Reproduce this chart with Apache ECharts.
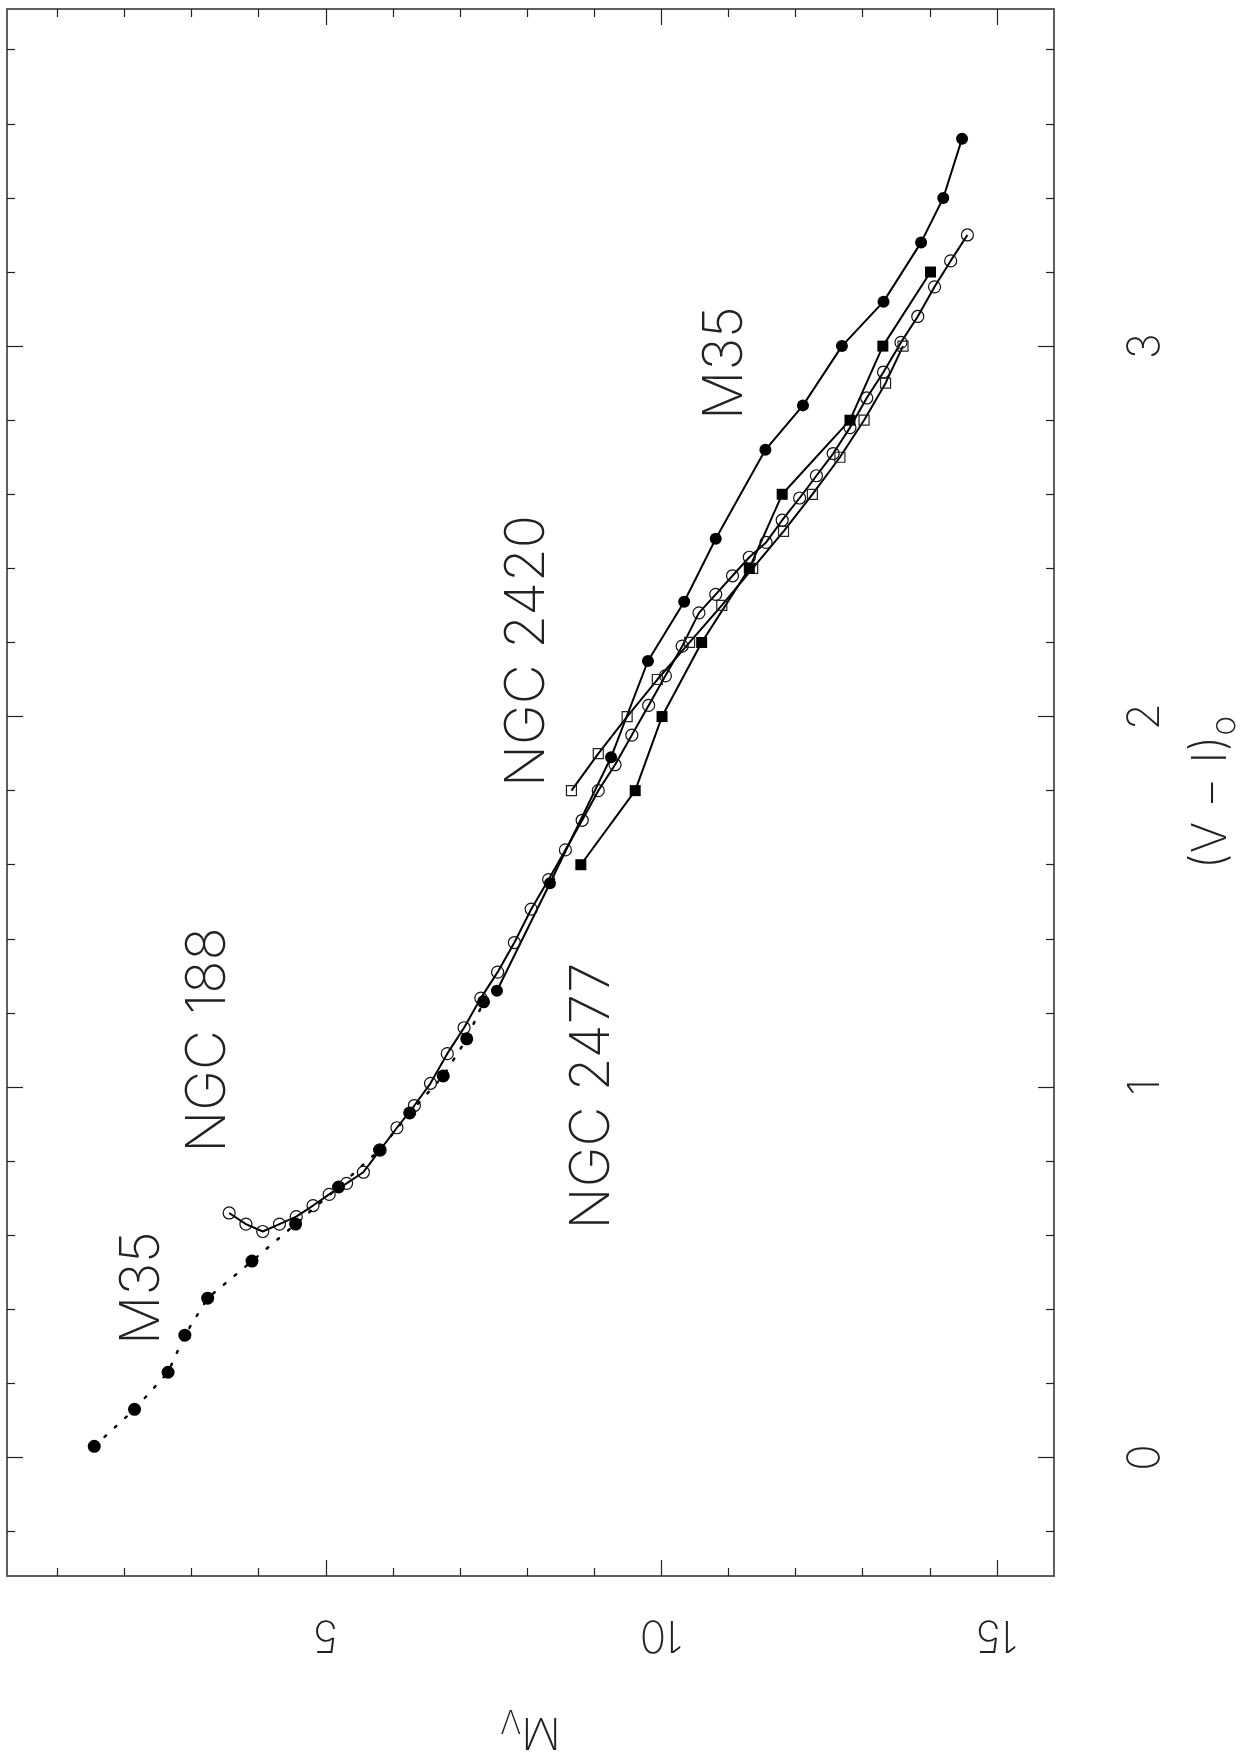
<!DOCTYPE html>
<html>
<head>
<meta charset="utf-8">
<script src="https://cdn.jsdelivr.net/npm/echarts@6/dist/echarts.min.js"></script>
<style>
html,body{margin:0;padding:0;background:#fff;overflow:hidden;width:1257px;height:1754px;}
#chart{width:1257px;height:1754px;display:block;}
</style>
</head>
<body>
<div id="chart"></div>
<script>
// Tick values
const MV_MAJOR = [5, 10, 15];
const MV_MINOR = [1, 2, 3, 4, 6, 7, 8, 9, 11, 12, 13, 14];
const VI_MAJOR = [0, 1, 2, 3];
const VI_MINOR = [-0.2, 0.2, 0.4, 0.6, 0.8, 1.2, 1.4, 1.6, 1.8, 2.2, 2.4, 2.6, 2.8, 3.2, 3.4, 3.6, 3.8];

// M35, bright part (dotted)
const m35BrightMv = [1.55, 2.15, 2.65, 2.90, 3.24, 3.90, 4.55, 5.19, 5.80, 6.25, 6.75, 7.10, 7.35];
const m35BrightVI = [0.03, 0.13, 0.23, 0.33, 0.43, 0.53, 0.63, 0.73, 0.83, 0.93, 1.03, 1.13, 1.23];

// M35, faint part (solid)
const m35FaintMv = [7.55, 8.34, 9.25, 9.80, 10.34, 10.81, 11.55, 12.11, 12.69, 13.31, 13.87, 14.20, 14.48];
const m35FaintVI = [1.26, 1.55, 1.89, 2.15, 2.31, 2.48, 2.72, 2.84, 3.00, 3.12, 3.28, 3.40, 3.56];

// NGC 188 (open circles)
const ngc188Mv = [3.56, 3.81, 4.06, 4.31, 4.56, 4.81, 5.05, 5.31, 5.56, 5.81, 6.06, 6.32, 6.56, 6.81, 7.06,
  7.31, 7.56, 7.81, 8.06, 8.32, 8.57, 8.82, 9.06, 9.31, 9.56, 9.81, 10.06, 10.31, 10.56, 10.81,
  11.06, 11.31, 11.56, 11.80, 12.06, 12.31, 12.56, 12.81, 13.06, 13.31, 13.57, 13.82, 14.07, 14.31, 14.56];
const ngc188VI = [0.66, 0.63, 0.61, 0.63, 0.65, 0.68, 0.71, 0.74, 0.77, 0.83, 0.89, 0.95, 1.01, 1.09, 1.16,
  1.24, 1.31, 1.39, 1.48, 1.56, 1.64, 1.72, 1.80, 1.87, 1.95, 2.03, 2.11, 2.19, 2.28, 2.33,
  2.38, 2.43, 2.47, 2.53, 2.59, 2.65, 2.71, 2.78, 2.86, 2.93, 3.01, 3.08, 3.16, 3.23, 3.30];

// NGC 2420 (open squares)
const ngc2420Mv = [8.66, 9.06, 9.49, 9.94, 10.42, 10.90, 11.36, 11.82, 12.25, 12.66, 13.02, 13.34, 13.60];
const ngc2420VI = [1.8, 1.9, 2.0, 2.1, 2.2, 2.3, 2.4, 2.5, 2.6, 2.7, 2.8, 2.9, 3.0];

// NGC 2477 (filled squares)
const ngc2477Mv = [8.80, 9.61, 10.01, 10.60, 11.31, 11.80, 12.81, 13.30, 14.01];
const ngc2477VI = [1.6, 1.8, 2.0, 2.2, 2.4, 2.6, 2.8, 3.0, 3.2];

const pairs = (xs, ys) => xs.map((x, i) => [x, ys[i]]);

const FONT = "Inter, 'DejaVu Sans', sans-serif";
const TXT = '#222';
const W = 200;
const FRAME = '#555';

const chart = echarts.init(document.getElementById('chart'), null, {renderer: 'canvas', width: 1257, height: 1754});

const MV_MIN = 0.25, MV_MAX = 15.85, VI_MIN = -0.32, VI_MAX = 3.91;

function xAx(pos, ticks, len, labels) {
  return {
    type: 'value', position: pos, min: MV_MIN, max: MV_MAX,
    axisLine: {show: true, onZero: false, lineStyle: {color: FRAME, width: 1.5}},
    axisTick: {show: true, inside: true, length: len, customValues: ticks, lineStyle: {color: '#222', width: 1.2}},
    axisLabel: labels ? {show: true, customValues: ticks, rotate: 180, margin: 36, fontSize: 44,
      fontFamily: FONT, fontWeight: W, color: TXT} : {show: false},
    splitLine: {show: false}
  };
}
function yAx(pos, ticks, len, labels) {
  return {
    type: 'value', position: pos, min: VI_MIN, max: VI_MAX,
    axisLine: {show: true, onZero: false, lineStyle: {color: FRAME, width: 1.5}},
    axisTick: {show: true, inside: true, length: len, customValues: ticks, lineStyle: {color: '#222', width: 1.2}},
    axisLabel: labels ? {show: true, customValues: ticks, rotate: 90, margin: 70, fontSize: 44,
      fontFamily: FONT, fontWeight: W, color: TXT} : {show: false},
    splitLine: {show: false}
  };
}

const xMain = xAx('bottom', MV_MAJOR, 16, true);
xMain.name = '{m|M}{v|V}';
xMain.nameLocation = 'middle';
xMain.nameRotate = 180;
xMain.nameGap = 128;
xMain.nameTextStyle = {rich: {
  m: {fontSize: 44, fontFamily: FONT, fontWeight: W, color: TXT},
  v: {fontSize: 32, fontFamily: FONT, fontWeight: W, color: TXT, padding: [22, 0, 0, 0]}
}};

const yMain = yAx('right', VI_MAJOR, 16, true);
yMain.name = '{a|(V − I)}{o|o}';
yMain.nameLocation = 'middle';
yMain.nameRotate = 90;
yMain.nameGap = 128;
yMain.nameTextStyle = {rich: {
  a: {fontSize: 48, fontFamily: FONT, fontWeight: W, color: TXT},
  o: {fontSize: 34, fontFamily: FONT, fontWeight: W, color: TXT, padding: [26, 0, 0, 0]}
}};

const option = {
  animation: false,
  backgroundColor: '#fff',
  grid: {left: 7, top: 9, width: 1047, height: 1567, containLabel: false, outerBoundsMode: 'none'},
  xAxis: [xMain, xAx('bottom', MV_MINOR, 8, false), xAx('top', MV_MAJOR, 16, false), xAx('top', MV_MINOR, 8, false)],
  yAxis: [yMain, yAx('right', VI_MINOR, 8, false), yAx('left', VI_MAJOR, 16, false), yAx('left', VI_MINOR, 8, false)],
  series: [
    {
      name: 'M35 bright', type: 'line', data: pairs(m35BrightMv, m35BrightVI),
      symbol: 'circle', symbolSize: 13, itemStyle: {color: '#000'},
      lineStyle: {color: '#000', width: 2.5, type: [2, 12], cap: 'round'}
    },
    {
      name: 'NGC 188', type: 'line', data: pairs(ngc188Mv, ngc188VI),
      symbol: 'circle', symbolSize: 12,
      itemStyle: {color: 'rgba(0,0,0,0)', borderColor: '#111', borderWidth: 1.2},
      lineStyle: {color: '#000', width: 2}
    },
    {
      name: 'M35 faint', type: 'line', data: pairs(m35FaintMv, m35FaintVI),
      symbol: 'circle', symbolSize: 12, itemStyle: {color: '#000'},
      lineStyle: {color: '#000', width: 2}
    },
    {
      name: 'NGC 2420', type: 'line', data: pairs(ngc2420Mv, ngc2420VI),
      symbol: 'rect', symbolSize: 10,
      itemStyle: {color: 'rgba(0,0,0,0)', borderColor: '#222', borderWidth: 1.2},
      lineStyle: {color: '#000', width: 2}
    },
    {
      name: 'NGC 2477', type: 'line', data: pairs(ngc2477Mv, ngc2477VI),
      symbol: 'rect', symbolSize: 11, itemStyle: {color: '#000'},
      lineStyle: {color: '#000', width: 2}
    }
  ],
  graphic: [
    ['M35', 142, 1288],
    ['NGC 188', 208, 1040],
    ['NGC 2477', 592, 1096],
    ['NGC 2420', 527, 651],
    ['M35', 725, 363]
  ].map(([t, x, y]) => ({
    type: 'text', x: x, y: y, rotation: Math.PI / 2, z: 10,
    style: {text: t, fontSize: 55, fontFamily: FONT, fontWeight: W, fill: TXT,
      align: 'center', verticalAlign: 'middle'}
  }))
};

chart.setOption(option);
</script>
</body>
</html>
